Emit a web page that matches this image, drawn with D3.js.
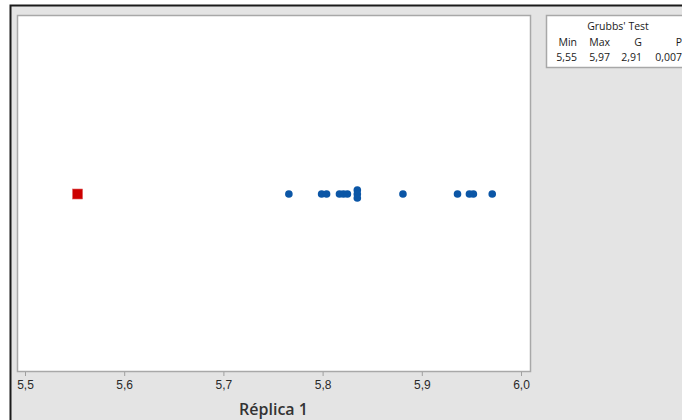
<!DOCTYPE html>
<html>
<head>
<meta charset="utf-8">
<script src="https://cdn.jsdelivr.net/npm/d3@7"></script>
<style>
  html, body { margin: 0; padding: 0; background: #ffffff; }
  svg { display: block; font-family: "Open Sans", "Noto Sans", sans-serif; }
</style>
</head>
<body>
<svg id="chart" width="682" height="420"></svg>
<script>
// Réplica 1 observations (outlier flagged separately)
const values = [5.766, 5.799, 5.804, 5.817, 5.821, 5.825, 5.835, 5.835, 5.835, 5.881, 5.936, 5.948, 5.952, 5.971];
const outliers = [5.553];
const tickValues = [5.5, 5.6, 5.7, 5.8, 5.9, 6.0];
const xDomain = [5.5, 6.0];
const axisTitle = "Réplica 1";

// Grubbs' test summary table
const testTitle = "Grubbs' Test";
const testHeaders = ["Min", "Max", "G", "P"];
const testValues = ["5,55", "5,97", "2,91", "0,007"];

const fmt = d3.format(".1f");
const comma = d => fmt(d).replace(".", ",");

const svg = d3.select("#chart");
const W = 682, H = 420;

// graph region background and outer frame
svg.append("rect").attr("x", 0).attr("y", 0).attr("width", W).attr("height", H).attr("fill", "#ffffff");
svg.append("rect").attr("x", 11).attr("y", 6).attr("width", W - 11).attr("height", H - 6).attr("fill", "#e4e4e4");
svg.append("path").attr("d", `M10.5,${H} V5.5 H${W}`).attr("fill", "none").attr("stroke", "#1a1a1a").attr("stroke-width", 2);

// data region
const plot = { x0: 17, x1: 530, y0: 15, y1: 371 };
svg.append("rect")
  .attr("x", plot.x0 + 0.5).attr("y", plot.y0 + 0.5)
  .attr("width", plot.x1 - plot.x0).attr("height", plot.y1 - plot.y0)
  .attr("fill", "#ffffff").attr("stroke", "#a8a8a8").attr("stroke-width", 1.5);

const x = d3.scaleLinear().domain(xDomain).range([25, 521]);
const yMid = (plot.y0 + plot.y1) / 2 + 1;

// x axis
const axis = d3.axisBottom(x).tickValues(tickValues).tickFormat(comma).tickSize(4).tickSizeOuter(0);
const gAxis = svg.append("g").attr("transform", `translate(0,${plot.y1 + 1})`).call(axis);
gAxis.select(".domain").remove();
gAxis.selectAll(".tick line").attr("stroke", "#a0a0a0");
gAxis.selectAll(".tick text").attr("fill", "#2a2a2a").attr("font-size", 12).attr("dy", "0.85em");

svg.append("text")
  .attr("x", (plot.x0 + plot.x1) / 2).attr("y", 415)
  .attr("text-anchor", "middle").attr("font-size", 16).attr("font-weight", 600)
  .attr("fill", "#333333").text(axisTitle);

// stack repeated values slightly so they remain visible
const seen = new Map();
const pts = values.map(v => {
  const k = v.toFixed(3);
  const n = seen.get(k) || 0;
  seen.set(k, n + 1);
  return { v, n };
});
const counts = new Map();
pts.forEach(p => counts.set(p.v.toFixed(3), (counts.get(p.v.toFixed(3)) || 0) + 1));

svg.append("g").selectAll("circle").data(pts).join("circle")
  .attr("cx", d => x(d.v))
  .attr("cy", d => {
    const c = counts.get(d.v.toFixed(3));
    return yMid + (d.n - (c - 1) / 2) * 4;
  })
  .attr("r", 3.8)
  .attr("fill", "#0b56a6");

svg.append("g").selectAll("rect").data(outliers).join("rect")
  .attr("x", d => x(d) - 5).attr("y", yMid - 5)
  .attr("width", 10).attr("height", 10)
  .attr("fill", "#cc0000").attr("stroke", "#e06060").attr("stroke-width", 0.6);

// test summary box
svg.append("rect")
  .attr("x", 546.5).attr("y", 15.5).attr("width", 160).attr("height", 52)
  .attr("fill", "#ffffff").attr("stroke", "#a8a8a8").attr("stroke-width", 1.5);

svg.append("text").attr("x", 618).attr("y", 30).attr("text-anchor", "middle")
  .attr("font-size", 10.5).attr("fill", "#1a1a1a").text(testTitle);

const colRight = [577, 610, 642, 682];
svg.append("g").selectAll("text").data(testHeaders).join("text")
  .attr("x", (d, i) => colRight[i]).attr("y", 46).attr("text-anchor", "end")
  .attr("font-size", 10.5).attr("fill", "#1a1a1a").text(d => d);
svg.append("g").selectAll("text").data(testValues).join("text")
  .attr("x", (d, i) => colRight[i]).attr("y", 61).attr("text-anchor", "end")
  .attr("font-size", 10.5).attr("fill", "#1a1a1a").text(d => d);
</script>
</body>
</html>
